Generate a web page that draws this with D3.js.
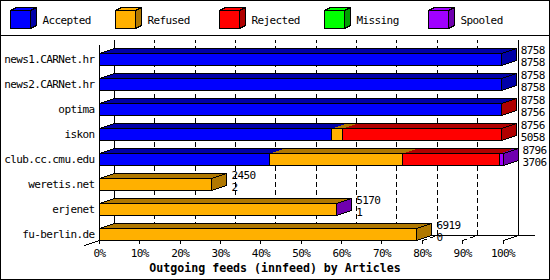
<!DOCTYPE html>
<html><head><meta charset="utf-8">
<script src="https://cdn.jsdelivr.net/npm/d3@7"></script>
<style>body{margin:0;background:#fff}svg{display:block}</style>
</head><body>
<svg id="c" width="550" height="280"></svg>
<script>
const categories = ["news1.CARNet.hr","news2.CARNet.hr","optima","iskon","club.cc.cmu.edu","weretis.net","erjenet","fu-berlin.de"];
const offered  = [8758, 8758, 8758, 8756, 8796, 2450, 5170, 6919];
const accepted = [8758, 8758, 8756, 5058, 3706, 2, 1, 0];
const refused  = [0, 0, 0, 231, 2905, 2448, 5160, 6919];
const rejected = [0, 0, 2, 3467, 2100, 0, 0, 0];
const missing  = [0, 0, 0, 0, 0, 0, 0, 0];
const spooled  = [0, 0, 0, 0, 85, 0, 9, 0];
const seriesNames = ["Accepted","Refused","Rejected","Missing","Spooled"];
const seriesFront = ["#0000ff","#ffb000","#ff0000","#00ff00","#a000ff"];
const seriesSide  = ["#0000a8","#b07800","#b00000","#00a000","#7000b0"];
const tickValues = [0,10,20,30,40,50,60,70,80,90,100];
const title = "Outgoing feeds (innfeed) by Articles";

const series = [accepted, refused, rejected, missing, spooled];
const FONT = "'DejaVu Sans Mono', monospace";
const DX = 15, DY = 5;
const svg = d3.select("#c");
const maxTotal = d3.max(offered);
const x = d3.scaleLinear().domain([0, 100]).range([99, 502.5]);
const y = d3.scaleBand().domain(categories).range([40, 240]);
const px = v => Math.round(v) + 0.5;
const xv = v => px(x(v / maxTotal * 100));

svg.append("rect").attr("width", 550).attr("height", 280).attr("fill", "#fff");

// legend
const lg = svg.append("g").attr("shape-rendering", "crispEdges");
seriesNames.forEach((n, i) => {
  const bx = 10.5 + Math.round(i * 104.5), by = 10.5, w = 20, h = 18, dx = 6, dy = 3;
  lg.append("polygon").attr("points", [[bx,by],[bx+dx,by-dy],[bx+w+dx,by-dy],[bx+w,by]].join(" "))
    .attr("fill", seriesFront[i]).attr("stroke", "#000");
  lg.append("polygon").attr("points", [[bx+w,by],[bx+w+dx,by-dy],[bx+w+dx,by+h-dy],[bx+w,by+h]].join(" "))
    .attr("fill", seriesSide[i]).attr("stroke", "#000");
  lg.append("rect").attr("x", bx).attr("y", by).attr("width", w).attr("height", h)
    .attr("fill", seriesFront[i]).attr("stroke", "#000");
  svg.append("text").attr("x", bx + 32).attr("y", 24).text(n)
    .attr("font-family", FONT).attr("font-size", 11).attr("letter-spacing", -0.6).attr("fill", "#000");
});
svg.append("line").attr("x1", 0).attr("x2", 550).attr("y1", 35.5).attr("y2", 35.5)
  .attr("stroke", "#000").attr("shape-rendering", "crispEdges");

// grid & frame
const g = svg.append("g").attr("shape-rendering", "crispEdges").attr("fill", "none").attr("stroke", "#000");
const yTop = 40, yFloor = 240.5;
tickValues.forEach(t => {
  const xf = px(x(t));
  if (t === 0) {
    g.append("path").attr("d", `M${xf+DX},${yFloor-DY}V${yTop}`);
  } else if (t === 100) {
    g.append("path").attr("d", `M${xf},${yFloor}L${xf+DX},${yFloor-DY}V${yTop}`);
  } else {
    g.append("path").attr("d", `M${xf},${yFloor}L${xf+DX},${yFloor-DY}V${yTop}`)
      .attr("stroke-dasharray", "5,3");
  }
});
g.append("path").attr("d", `M${px(x(0))+DX},${yFloor-DY}H535`);
g.append("path").attr("d", `M${px(x(0))},45V${yFloor}`);
g.append("path").attr("d", `M${px(x(0))-15},${yFloor+5}L${px(x(0))},${yFloor}`);

// bars
const bg = svg.append("g").attr("shape-rendering", "crispEdges");
categories.forEach((c, i) => {
  const yt = y(c) + 13.5, yb = y(c) + 25.5;
  let cum = 0, lastIdx = 0;
  const segs = [];
  series.forEach((s, k) => {
    const v = s[i];
    if (v > 0) { segs.push({k, x0: xv(cum), x1: xv(cum + v)}); lastIdx = k; }
    cum += v;
  });
  const xs = xv(0), xe = xv(cum);
  // top faces
  segs.forEach(sg => {
    if (sg.x1 - sg.x0 < 0.5) return;
    bg.append("polygon").attr("points", [[sg.x0,yt],[sg.x0+DX,yt-DY],[sg.x1+DX,yt-DY],[sg.x1,yt]].join(" "))
      .attr("fill", seriesSide[sg.k]);
  });
  bg.append("polygon").attr("points", [[xs,yt],[xs+DX,yt-DY],[xe+DX,yt-DY],[xe,yt]].join(" "))
    .attr("fill", "none").attr("stroke", "#000");
  // end face
  bg.append("polygon").attr("points", [[xe,yt],[xe+DX,yt-DY],[xe+DX,yb-DY],[xe,yb]].join(" "))
    .attr("fill", seriesSide[lastIdx]).attr("stroke", "#000");
  // front
  segs.forEach(sg => {
    if (sg.x1 - sg.x0 < 0.5) return;
    bg.append("rect").attr("x", sg.x0).attr("y", yt).attr("width", sg.x1 - sg.x0).attr("height", yb - yt)
      .attr("fill", seriesFront[sg.k]).attr("stroke", "#000");
  });
  // labels
  const lx = x(cum / maxTotal * 100) + DX + 5;
  svg.append("text").attr("x", lx).attr("y", y(c) + 14).text(offered[i])
    .attr("font-family", FONT).attr("font-size", 11).attr("letter-spacing", -0.6);
  svg.append("text").attr("x", lx).attr("y", y(c) + 25.5).text(accepted[i])
    .attr("font-family", FONT).attr("font-size", 11).attr("letter-spacing", -0.6);
  svg.append("text").attr("x", 94.5).attr("y", y(c) + 23).attr("text-anchor", "end").text(c)
    .attr("font-family", FONT).attr("font-size", 11).attr("letter-spacing", -0.6);
});

// x axis
const ax = svg.append("g").attr("transform", `translate(0,${240})`)
  .call(d3.axisBottom(x).tickValues(tickValues).tickFormat(d => d + "%").tickSize(4).tickPadding(5));
ax.select(".domain").remove();
ax.selectAll("line").attr("stroke", "#000").attr("shape-rendering", "crispEdges");
ax.selectAll("text").attr("font-family", FONT).attr("font-size", 11).attr("letter-spacing", -0.6).attr("fill", "#000");

svg.append("text").attr("x", 275).attr("y", 272).attr("text-anchor", "middle").text(title)
  .attr("font-family", FONT).attr("font-size", 11.6).attr("font-weight", "bold");

svg.append("rect").attr("x", 0.5).attr("y", 0.5).attr("width", 549).attr("height", 279)
  .attr("fill", "none").attr("stroke", "#000").attr("shape-rendering", "crispEdges");
</script>
</body></html>
